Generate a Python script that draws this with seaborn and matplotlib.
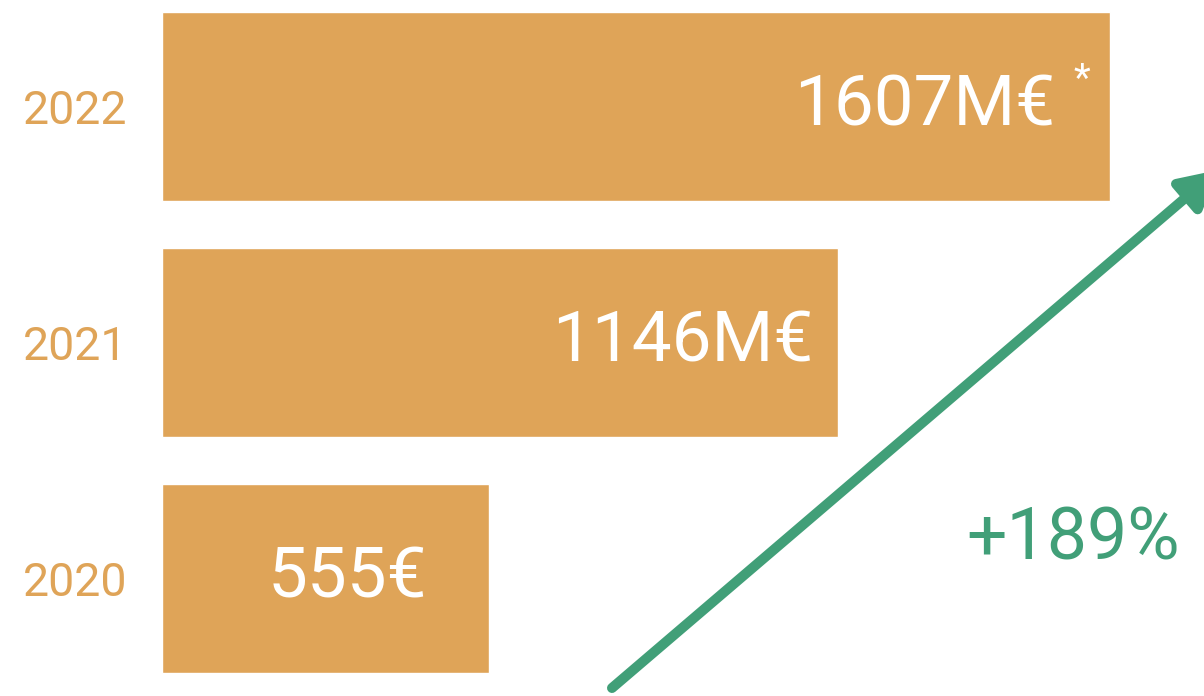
import matplotlib
matplotlib.use("Agg")
import matplotlib.pyplot as plt
import seaborn as sns
import pandas as pd

years = ["2022", "2021", "2020"]
values = [1607, 1146, 555]
labels = ["1607M€", "1146M€", "555€"]
growth_label = "+189%"

BAR = "#DFA458"
GREEN = "#419F78"

sns.set_theme(style="white")
plt.rcParams["font.family"] = ["Roboto", "DejaVu Sans"]

df = pd.DataFrame({"year": years, "value": values})

fig = plt.figure(figsize=(12.04, 6.96), dpi=100)
ax = fig.add_axes([162 / 1204, 0, 1 - 162 / 1204, 1])

sns.barplot(data=df, y="year", x="value", order=years, color=BAR,
            saturation=1, width=0.8, ax=ax)

ax.set_xlim(0, 1766)
ax.set_ylim(2.499, -0.45)
ax.set_xlabel("")
ax.set_ylabel("")
ax.set_xticks([])
for s in ax.spines.values():
    s.set_visible(False)
ax.tick_params(axis="y", length=0, pad=25, labelsize=33.5, labelcolor=BAR)

px = 0.72  # points per pixel at 100 dpi
offsets = [-55, -25, -62]
for i, (v, lab, off) in enumerate(zip(values, labels, offsets)):
    ax.annotate(lab, xy=(v, i), xytext=(off * px, 0), textcoords="offset points",
                ha="right", va="center", color="white", fontsize=51)

ax.annotate("*", xy=(values[0], 0), xytext=(-28 * px, 26 * px), textcoords="offset points",
            ha="center", va="center", color="white", fontsize=28)

ax.annotate("", xy=(1218, 696 - 170), xytext=(612, 696 - 688),
            xycoords="figure pixels", textcoords="figure pixels",
            arrowprops=dict(arrowstyle="-|>,head_length=1.1,head_width=0.6",
                            mutation_scale=20, lw=7.2, color=GREEN,
                            capstyle="round", joinstyle="round",
                            shrinkA=0, shrinkB=0))

fig.text(966 / 1204, 1 - 540 / 696, growth_label, ha="left", va="center",
         color=GREEN, fontsize=51.5)

fig.savefig("out.png", dpi=100)
